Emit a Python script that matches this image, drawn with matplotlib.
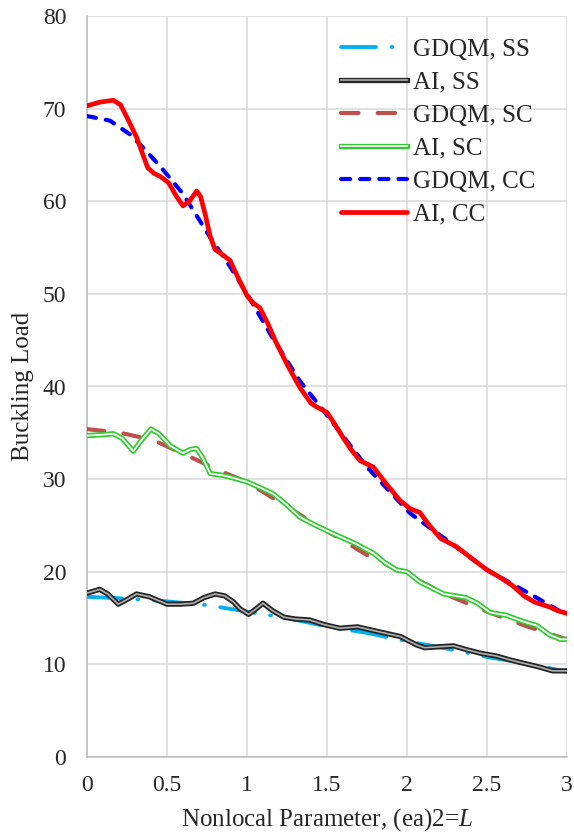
import numpy as np
import matplotlib
matplotlib.use('Agg')
import matplotlib.pyplot as plt
from matplotlib.lines import Line2D

plt.rcParams['font.family'] = ['Liberation Serif', 'DejaVu Serif']
plt.rcParams['mathtext.fontset'] = 'custom'
plt.rcParams['mathtext.rm'] = 'Liberation Serif'
plt.rcParams['mathtext.it'] = 'Liberation Serif:italic'

# --------------------------------------------------------------------------------------------------
# values

x_gdqm_ss = [0, 0.25, 0.5, 0.75, 1.0, 1.25, 1.5, 1.75, 2.0, 2.25, 2.5, 2.75, 3.0]
y_gdqm_ss = [17.3, 17.1, 16.8, 16.4, 15.7, 15.0, 14.1, 13.4, 12.5, 11.7, 10.8, 10.1, 9.2]

x_ai_ss = [0, 0.08, 0.13, 0.195, 0.25, 0.31, 0.39, 0.5, 0.58, 0.665, 0.73, 0.80, 0.86, 0.915,
           0.956, 1.01, 1.05, 1.10, 1.16, 1.23, 1.30, 1.39, 1.48, 1.58, 1.69, 1.83, 1.96, 2.06,
           2.11, 2.2, 2.29, 2.37, 2.46, 2.56, 2.64, 2.71, 2.83, 2.91, 3.0]
y_ai_ss = [17.7, 18.1, 17.6, 16.5, 17.0, 17.6, 17.3, 16.5, 16.5, 16.6, 17.2, 17.6, 17.4, 16.75,
           16.0, 15.4, 15.9, 16.6, 15.8, 15.1, 14.9, 14.8, 14.3, 13.9, 14.05, 13.5, 13.0, 12.1,
           11.8, 11.9, 12.0, 11.6, 11.2, 10.9, 10.5, 10.2, 9.7, 9.3, 9.3]

x_gdqm_sc = [0, 0.21, 0.415, 0.62, 0.83, 1.0, 1.25, 1.5, 1.75, 2.0, 2.25, 2.5, 2.75, 3.0]
y_gdqm_sc = [35.4, 35.0, 34.2, 32.6, 30.9, 29.7, 27.0, 24.4, 21.8, 19.7, 17.5, 15.7, 14.1, 12.7]

x_ai_sc = [0, 0.1, 0.165, 0.22, 0.29, 0.34, 0.40, 0.45, 0.52, 0.60, 0.645, 0.685, 0.72, 0.77,
           0.85, 0.92, 1.0, 1.08, 1.165, 1.25, 1.33, 1.43, 1.54, 1.67, 1.79, 1.86, 1.935, 2.0,
           2.08, 2.23, 2.37, 2.44, 2.52, 2.62, 2.73, 2.81, 2.89, 2.96, 3.0]
y_ai_sc = [34.7, 34.8, 34.9, 34.4, 33.0, 34.2, 35.4, 34.9, 33.6, 32.8, 33.2, 33.3, 32.4, 30.6,
           30.4, 30.1, 29.7, 29.1, 28.4, 27.2, 25.9, 25.0, 24.1, 23.1, 22.0, 21.0, 20.2, 20.0,
           18.9, 17.6, 17.2, 16.6, 15.6, 15.3, 14.6, 14.2, 13.2, 12.7, 12.7]

x_gdqm_cc = [0, 0.144, 0.27, 0.35, 0.456, 0.6, 0.77, 0.9, 1.0, 1.165, 1.33, 1.5, 1.75, 2.02,
             2.25, 2.5, 2.77, 3.0]
y_gdqm_cc = [69.2, 68.7, 67.2, 65.8, 63.8, 60.8, 56.1, 52.8, 50.0, 45.1, 40.6, 36.9, 31.3, 26.3,
             23.4, 20.2, 17.6, 15.3]

x_ai_cc = [0, 0.08, 0.165, 0.21, 0.26, 0.31, 0.35, 0.38, 0.42, 0.456, 0.51, 0.56, 0.60, 0.64,
           0.686, 0.71, 0.74, 0.77, 0.80, 0.85, 0.894, 0.94, 1.0, 1.04, 1.08, 1.13, 1.175, 1.25,
           1.33, 1.4, 1.435, 1.5, 1.55, 1.6, 1.65, 1.706, 1.79, 1.87, 1.956, 2.02, 2.08, 2.14,
           2.21, 2.31, 2.40, 2.50, 2.58, 2.66, 2.73, 2.80, 2.89, 2.94, 3.0]
y_ai_cc = [70.3, 70.7, 70.9, 70.4, 68.7, 66.9, 65.0, 63.6, 63.0, 62.7, 62.0, 60.5, 59.5, 60.0,
           61.1, 60.5, 58.5, 56.2, 54.8, 54.2, 53.6, 51.9, 49.8, 49.0, 48.5, 46.8, 45.0, 42.4,
           39.9, 38.2, 37.8, 37.2, 35.9, 34.5, 33.2, 32.0, 31.3, 29.5, 27.7, 26.8, 26.4, 25.0,
           23.6, 22.7, 21.5, 20.2, 19.4, 18.5, 17.4, 16.7, 16.2, 15.8, 15.5]

labels = ['GDQM, SS', 'AI, SS', 'GDQM, SC', 'AI, SC', 'GDQM, CC', 'AI, CC']
xticks = [0, 0.5, 1, 1.5, 2, 2.5, 3]
xticklabels = ['0', '0.5', '1', '1.5', '2', '2.5', '3']

# --------------------------------------------------------------------------------------------------

fs = 18
fs_tick = 17

fig = plt.figure(figsize=(5.74, 8.38), dpi=100)
ax = fig.add_axes([87/574, 1-757/838, 480/574, 741/838])

# GDQM, SS : long dash dot
h0, = ax.plot(x_gdqm_ss, y_gdqm_ss, c='#00B0F0', lw=2.8, ls=(0, (9, 4, 0.2, 4)),
              dash_capstyle='round', zorder=3)

# AI, SS : compound black line
ax.plot(x_ai_ss, y_ai_ss, c='#262626', lw=3.8, zorder=4, solid_capstyle='round',
        solid_joinstyle='round')
ax.plot(x_ai_ss, y_ai_ss, c='#B0B0B0', lw=1.2, zorder=4.1, solid_joinstyle='round')
h1 = (Line2D([], [], c='#262626', lw=3.8), Line2D([], [], c='#B0B0B0', lw=1.2))

# GDQM, SC : long dashes
h2, = ax.plot(x_gdqm_sc, y_gdqm_sc, c='#C0504D', lw=3.0, ls=(0, (4.2, 4.6)),
              dash_capstyle='round', zorder=5)

# AI, SC : compound green line
ax.plot(x_ai_sc, y_ai_sc, c='#2ECC2E', lw=3.8, zorder=6, solid_capstyle='round',
        solid_joinstyle='round')
ax.plot(x_ai_sc, y_ai_sc, c='white', lw=1.3, zorder=6.1, solid_joinstyle='round')
h3 = (Line2D([], [], c='#2ECC2E', lw=3.8), Line2D([], [], c='white', lw=1.3))

# GDQM, CC : short dashes
h4, = ax.plot(x_gdqm_cc, y_gdqm_cc, c='#0000FF', lw=3.0, ls=(0, (2.2, 2.4)),
              dash_capstyle='round', zorder=7)

# AI, CC : thick red
h5, = ax.plot(x_ai_cc, y_ai_cc, c='#FF0000', lw=3.4, zorder=8, solid_capstyle='round',
              solid_joinstyle='round')

# -----------------------------------------

ax.set_xlim([0, 3])
ax.set_ylim([0, 80])
ax.set_xticks(xticks)
ax.set_xticklabels(xticklabels)
ax.set_yticks(np.arange(0, 81, 10))

ax.grid(True, c='#D9D9D9', lw=1.1, zorder=0)
ax.set_axisbelow(True)
for axis in ['top', 'right']:
    ax.spines[axis].set_visible(False)
for axis in ['left', 'bottom']:
    ax.spines[axis].set_color('#BFBFBF')
    ax.spines[axis].set_linewidth(1.2)
ax.tick_params(which='both', length=0, labelsize=fs_tick, colors='#262626')
ax.tick_params(axis='y', pad=15)
ax.tick_params(axis='x', pad=13)

ax.set_ylabel('Buckling Load', fontsize=fs, color='#262626')
ax.set_xlabel('Nonlocal Parameter, (ea)2=$\\mathit{L}$', fontsize=fs, color='#262626')
ax.yaxis.set_label_coords(-0.11, 0.5)
ax.xaxis.set_label_coords(0.5, -0.066)

ax.legend([h0, h1, h2, h3, h4, h5], labels, loc='upper left', bbox_to_anchor=(0.5285, 0.970),
          frameon=False, fontsize=fs, handlelength=2.65, handletextpad=0.25, labelspacing=0.42,
          borderpad=0, borderaxespad=0, labelcolor='#262626')

plt.savefig('out.png', dpi=100)
plt.close()
